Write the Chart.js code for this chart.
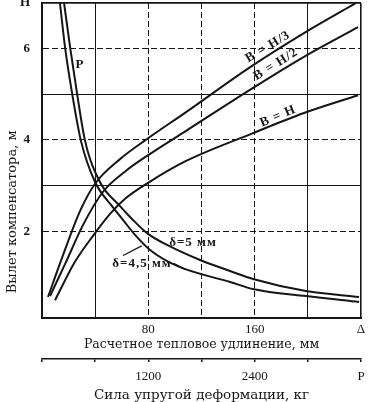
<!DOCTYPE html>
<html>
<head>
<meta charset="utf-8">
<script src="https://cdn.jsdelivr.net/npm/chart.js@4/dist/chart.umd.min.js"></script>
<style>
  html, body { margin: 0; padding: 0; background: #fff; }
  #wrap { width: 372px; height: 402px; }
</style>
</head>
<body>
<div id="wrap"><canvas id="chart"></canvas></div>
<script>
// Вылет компенсатора H (м) по расчетному удлинению Δ (мм)
const curveH3Delta = [4.5, 15.0, 28.6, 39.9, 58.7, 79.0, 108.4, 155.8, 197.1, 236.3];
const curveH3Height = [0.56, 1.41, 2.44, 3.04, 3.58, 4.02, 4.61, 5.58, 6.34, 7.0];

const curveH2Delta = [6.0, 18.1, 30.9, 45.8, 63.9, 79.0, 108.4, 158.8, 197.1, 237.8];
const curveH2Height = [0.58, 1.33, 2.14, 2.86, 3.34, 3.65, 4.20, 5.14, 5.82, 6.47];

const curveHDelta = [9.8, 24.8, 38.4, 51.2, 62.5, 79.8, 108.4, 158.8, 197.1, 237.8];
const curveHHeight = [0.49, 1.33, 1.90, 2.38, 2.71, 3.06, 3.54, 4.15, 4.59, 4.98];

// сила упругой деформации P, same x scale (1 mm = 15 kg)
const force5Delta = [16.6, 21.1, 26.3, 32.4, 43.6, 58.7, 67.7, 79.0, 94.1, 118.9, 141.5, 159.5, 198.6, 238.5];
const force5Height = [7.0, 6.04, 5.03, 3.98, 3.08, 2.55, 2.27, 1.96, 1.70, 1.37, 1.13, 0.95, 0.69, 0.56];

const force45Delta = [13.5, 17.3, 22.6, 29.3, 39.9, 52.7, 60.9, 70.0, 81.3, 101.6, 141.5, 159.5, 198.6, 238.5];
const force45Height = [7.0, 6.04, 5.03, 3.98, 3.08, 2.55, 2.25, 1.92, 1.59, 1.24, 0.89, 0.73, 0.58, 0.45];

const deltaTicks = [0, 40, 80, 120, 160, 200, 240];
const deltaTickText = ['', '', '80', '', '160', '', 'Δ'];
const forceTicks = [0, 600, 1200, 1800, 2400, 3000, 3600];
const forceTickText = ['', '', '1200', '', '2400', '', 'P'];
const heightTicks = [1, 2, 3, 4, 5, 6, 7];
const heightTickText = ['', '2', '', '4', '', '6', 'H'];

const dashedX = [80, 120, 160];
const dashedY = [2, 4, 6];

const ink = '#151515';
const serif = 'Liberation Serif';

function curve(label, xs, ys) {
  return {
    label: label,
    data: xs.map((v, i) => ({ x: v, y: ys[i] })),
    borderColor: ink,
    borderWidth: 2,
    pointRadius: 0,
    cubicInterpolationMode: 'monotone',
    fill: false
  };
}

// curve captions, placed in data units
const notes = {
  id: 'notes',
  afterDatasetsDraw(chart) {
    const { ctx, scales: { x, y } } = chart;
    const items = [
      { t: 'В = Н/3', dx: 170, dy: 6.04, rot: -31 },
      { t: 'В = Н/2', dx: 176, dy: 5.66, rot: -32 },
      { t: 'В = Н', dx: 177.6, dy: 4.52, rot: -23 },
      { t: 'P', dx: 28.6, dy: 5.64, rot: 0 },
      { t: 'δ=5 мм', dx: 113.6, dy: 1.76, rot: 0 },
      { t: 'δ=4,5 мм', dx: 75.2, dy: 1.30, rot: 0 }
    ];
    ctx.save();
    ctx.fillStyle = ink;
    ctx.textAlign = 'center';
    ctx.textBaseline = 'middle';
    ctx.font = 'bold 13px "' + serif + '"';
    ctx.letterSpacing = '1px';
    items.forEach(it => {
      ctx.save();
      ctx.translate(x.getPixelForValue(it.dx), y.getPixelForValue(it.dy));
      ctx.rotate(it.rot * Math.PI / 180);
      ctx.fillText(it.t, 0, 0);
      ctx.restore();
    });
    // leaders of the δ=4,5 caption
    ctx.strokeStyle = ink;
    ctx.lineWidth = 1.2;
    ctx.beginPath();
    ctx.moveTo(x.getPixelForValue(61), y.getPixelForValue(1.47));
    ctx.lineTo(x.getPixelForValue(75), y.getPixelForValue(1.68));
    ctx.moveTo(x.getPixelForValue(99), y.getPixelForValue(1.30));
    ctx.lineTo(x.getPixelForValue(108), y.getPixelForValue(1.16));
    ctx.stroke();
    ctx.restore();
  }
};

new Chart(document.getElementById('chart'), {
  type: 'line',
  data: {
    datasets: [
      curve('В=Н/3', curveH3Delta, curveH3Height),
      curve('В=Н/2', curveH2Delta, curveH2Height),
      curve('В=Н', curveHDelta, curveHHeight),
      curve('P, δ=5 мм', force5Delta, force5Height),
      curve('P, δ=4,5 мм', force45Delta, force45Height)
    ]
  },
  options: {
    responsive: true,
    maintainAspectRatio: false,
    animation: false,
    layout: { padding: { top: 3, right: 11, bottom: 0, left: 0 } },
    plugins: { legend: { display: false }, tooltip: { enabled: false } },
    scales: {
      x: {
        type: 'linear',
        position: 'bottom',
        min: 0,
        max: 240,
        afterBuildTicks: s => { s.ticks = deltaTicks.map(v => ({ value: v })); },
        afterFit: s => { s.height = 41; },
        ticks: {
          autoSkip: false, maxRotation: 0, padding: 4, color: ink,
          font: { family: serif, size: 13 },
          callback: (v, i) => deltaTickText[i]
        },
        grid: {
          drawTicks: false,
          color: ink,
          lineWidth: c => (c.tick && c.tick.value === 240) ? 1.6 : 1
        },
        border: {
          color: ink, width: 2,
          dash: c => (c.tick && dashedX.includes(c.tick.value)) ? [6, 3] : []
        },
        title: {
          display: true, text: 'Расчетное тепловое удлинение, мм', color: ink,
          font: { family: 'DejaVu Serif', size: 12.5 },
          padding: { top: 0, bottom: 7 }
        }
      },
      x2: {
        type: 'linear',
        position: 'bottom',
        min: 0,
        max: 3600,
        afterBuildTicks: s => { s.ticks = forceTicks.map(v => ({ value: v })); },
        afterFit: s => { s.height = 43; },
        ticks: {
          autoSkip: false, maxRotation: 0, padding: 7, color: ink,
          font: { family: serif, size: 13 },
          callback: (v, i) => forceTickText[i]
        },
        grid: { drawOnChartArea: false, drawTicks: true, tickLength: 3, color: ink, lineWidth: 1.5 },
        border: { color: ink, width: 1.5 },
        title: {
          display: true, text: 'Сила упругой деформации, кг', color: ink,
          font: { family: 'DejaVu Serif', size: 13.5, lineHeight: 1.0 },
          padding: { top: 0, bottom: 0 }
        }
      },
      y: {
        type: 'linear',
        min: 0.1,
        max: 7,
        afterBuildTicks: s => { s.ticks = heightTicks.map(v => ({ value: v })); },
        afterFit: s => { s.width = 42; s.paddingTop = 0; },
        ticks: {
          autoSkip: false, padding: 12, color: ink,
          font: { family: serif, size: 13, weight: 'bold' },
          callback: (v, i) => heightTickText[i]
        },
        grid: {
          drawTicks: false,
          color: c => (c.tick && c.tick.value === 1) ? 'rgba(0,0,0,0)' : ink,
          lineWidth: c => (c.tick && c.tick.value === 7) ? 1.8 : 1
        },
        border: {
          color: ink, width: 2,
          dash: c => (c.tick && dashedY.includes(c.tick.value)) ? [6, 3] : []
        },
        title: {
          display: true, text: '      Вылет компенсатора, м', color: ink, align: 'start',
          font: { family: 'DejaVu Serif', size: 13 },
          padding: { top: 5, bottom: 0 }
        }
      }
    }
  },
  plugins: [notes]
});
</script>
</body>
</html>
